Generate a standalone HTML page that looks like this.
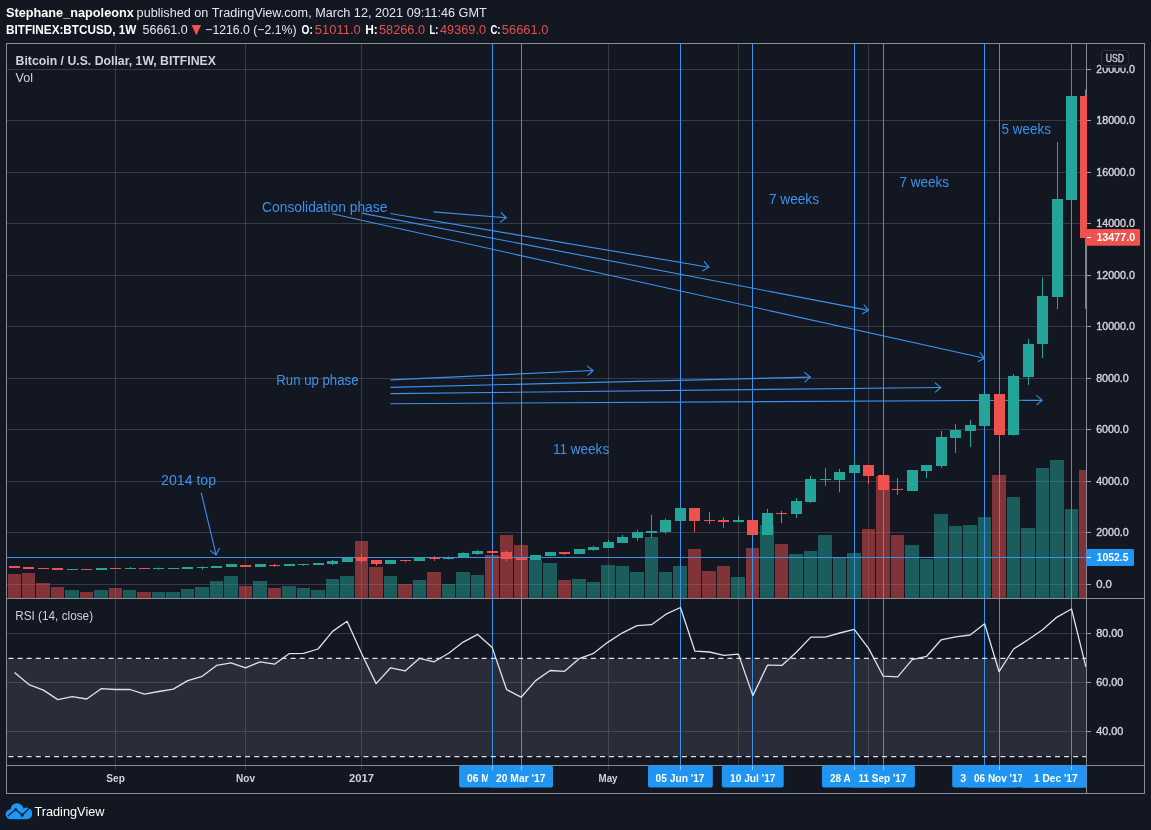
<!DOCTYPE html>
<html><head><meta charset="utf-8"><title>BTCUSD 1W</title>
<style>html,body{margin:0;padding:0;background:#131722;}body{width:1151px;height:830px;overflow:hidden;font-family:"Liberation Sans", sans-serif;}svg{display:block;}</style></head>
<body>
<svg width="1151" height="830" viewBox="0 0 1151 830" font-family='"Liberation Sans", sans-serif'>
<rect x="0" y="0" width="1151" height="830" fill="#131722"/>
<g opacity="0.999">
<defs><clipPath id="cp"><rect x="6.5" y="43.5" width="1080" height="721.5"/></clipPath></defs>
<rect x="6.5" y="658.5" width="1080" height="98" fill="#2b2e39"/>
<g shape-rendering="crispEdges">
<line x1="6.5" y1="584.5" x2="1086.5" y2="584.5" stroke="rgba(120,123,134,0.37)" stroke-width="1"/>
<line x1="6.5" y1="532.5" x2="1086.5" y2="532.5" stroke="rgba(120,123,134,0.37)" stroke-width="1"/>
<line x1="6.5" y1="481.5" x2="1086.5" y2="481.5" stroke="rgba(120,123,134,0.37)" stroke-width="1"/>
<line x1="6.5" y1="429.5" x2="1086.5" y2="429.5" stroke="rgba(120,123,134,0.37)" stroke-width="1"/>
<line x1="6.5" y1="378.5" x2="1086.5" y2="378.5" stroke="rgba(120,123,134,0.37)" stroke-width="1"/>
<line x1="6.5" y1="326.5" x2="1086.5" y2="326.5" stroke="rgba(120,123,134,0.37)" stroke-width="1"/>
<line x1="6.5" y1="275.5" x2="1086.5" y2="275.5" stroke="rgba(120,123,134,0.37)" stroke-width="1"/>
<line x1="6.5" y1="223.5" x2="1086.5" y2="223.5" stroke="rgba(120,123,134,0.37)" stroke-width="1"/>
<line x1="6.5" y1="172.5" x2="1086.5" y2="172.5" stroke="rgba(120,123,134,0.37)" stroke-width="1"/>
<line x1="6.5" y1="120.5" x2="1086.5" y2="120.5" stroke="rgba(120,123,134,0.37)" stroke-width="1"/>
<line x1="6.5" y1="69.5" x2="1086.5" y2="69.5" stroke="rgba(120,123,134,0.37)" stroke-width="1"/>
<line x1="6.5" y1="633.5" x2="1086.5" y2="633.5" stroke="rgba(120,123,134,0.37)" stroke-width="1"/>
<line x1="6.5" y1="682.5" x2="1086.5" y2="682.5" stroke="rgba(120,123,134,0.37)" stroke-width="1"/>
<line x1="6.5" y1="731.5" x2="1086.5" y2="731.5" stroke="rgba(120,123,134,0.37)" stroke-width="1"/>
<line x1="115.5" y1="43.5" x2="115.5" y2="770" stroke="rgba(120,123,134,0.37)" stroke-width="1"/>
<line x1="245.5" y1="43.5" x2="245.5" y2="770" stroke="rgba(120,123,134,0.37)" stroke-width="1"/>
<line x1="361.5" y1="43.5" x2="361.5" y2="770" stroke="rgba(120,123,134,0.37)" stroke-width="1"/>
<line x1="608.5" y1="43.5" x2="608.5" y2="770" stroke="rgba(120,123,134,0.37)" stroke-width="1"/>
<line x1="738.5" y1="43.5" x2="738.5" y2="770" stroke="rgba(120,123,134,0.37)" stroke-width="1"/>
<line x1="868.5" y1="43.5" x2="868.5" y2="770" stroke="rgba(120,123,134,0.37)" stroke-width="1"/>
</g>
<g clip-path="url(#cp)">
<g shape-rendering="crispEdges">
<rect x="8" y="574" width="13" height="24.5" fill="rgba(239,83,80,0.5)"/>
<rect x="22" y="573" width="13" height="25.5" fill="rgba(239,83,80,0.5)"/>
<rect x="36" y="583" width="14" height="15.5" fill="rgba(239,83,80,0.5)"/>
<rect x="51" y="587" width="13" height="11.5" fill="rgba(239,83,80,0.5)"/>
<rect x="65" y="590" width="14" height="8.5" fill="rgba(38,166,154,0.5)"/>
<rect x="80" y="592" width="13" height="6.5" fill="rgba(239,83,80,0.5)"/>
<rect x="94" y="590" width="14" height="8.5" fill="rgba(38,166,154,0.5)"/>
<rect x="109" y="588" width="13" height="10.5" fill="rgba(239,83,80,0.5)"/>
<rect x="123" y="590" width="13" height="8.5" fill="rgba(38,166,154,0.5)"/>
<rect x="137" y="592" width="14" height="6.5" fill="rgba(239,83,80,0.5)"/>
<rect x="152" y="592" width="13" height="6.5" fill="rgba(38,166,154,0.5)"/>
<rect x="166" y="592" width="14" height="6.5" fill="rgba(38,166,154,0.5)"/>
<rect x="181" y="589" width="13" height="9.5" fill="rgba(38,166,154,0.5)"/>
<rect x="195" y="587" width="14" height="11.5" fill="rgba(38,166,154,0.5)"/>
<rect x="210" y="581" width="13" height="17.5" fill="rgba(38,166,154,0.5)"/>
<rect x="224" y="576" width="14" height="22.5" fill="rgba(38,166,154,0.5)"/>
<rect x="239" y="586" width="13" height="12.5" fill="rgba(239,83,80,0.5)"/>
<rect x="253" y="581" width="14" height="17.5" fill="rgba(38,166,154,0.5)"/>
<rect x="268" y="588" width="13" height="10.5" fill="rgba(239,83,80,0.5)"/>
<rect x="282" y="586" width="14" height="12.5" fill="rgba(38,166,154,0.5)"/>
<rect x="297" y="588" width="13" height="10.5" fill="rgba(38,166,154,0.5)"/>
<rect x="311" y="590" width="14" height="8.5" fill="rgba(38,166,154,0.5)"/>
<rect x="326" y="579" width="13" height="19.5" fill="rgba(38,166,154,0.5)"/>
<rect x="340" y="576" width="14" height="22.5" fill="rgba(38,166,154,0.5)"/>
<rect x="355" y="541" width="13" height="57.5" fill="rgba(239,83,80,0.5)"/>
<rect x="369" y="567" width="14" height="31.5" fill="rgba(239,83,80,0.5)"/>
<rect x="384" y="576" width="13" height="22.5" fill="rgba(38,166,154,0.5)"/>
<rect x="398" y="584" width="14" height="14.5" fill="rgba(239,83,80,0.5)"/>
<rect x="413" y="580" width="13" height="18.5" fill="rgba(38,166,154,0.5)"/>
<rect x="427" y="572" width="14" height="26.5" fill="rgba(239,83,80,0.5)"/>
<rect x="442" y="584" width="13" height="14.5" fill="rgba(38,166,154,0.5)"/>
<rect x="456" y="572" width="14" height="26.5" fill="rgba(38,166,154,0.5)"/>
<rect x="471" y="575" width="13" height="23.5" fill="rgba(38,166,154,0.5)"/>
<rect x="485" y="555" width="14" height="43.5" fill="rgba(239,83,80,0.5)"/>
<rect x="500" y="535" width="13" height="63.5" fill="rgba(239,83,80,0.5)"/>
<rect x="514" y="545" width="14" height="53.5" fill="rgba(239,83,80,0.5)"/>
<rect x="529" y="560" width="13" height="38.5" fill="rgba(38,166,154,0.5)"/>
<rect x="543" y="563" width="14" height="35.5" fill="rgba(38,166,154,0.5)"/>
<rect x="558" y="580" width="13" height="18.5" fill="rgba(239,83,80,0.5)"/>
<rect x="572" y="579" width="14" height="19.5" fill="rgba(38,166,154,0.5)"/>
<rect x="587" y="582" width="13" height="16.5" fill="rgba(38,166,154,0.5)"/>
<rect x="601" y="565" width="14" height="33.5" fill="rgba(38,166,154,0.5)"/>
<rect x="616" y="566" width="13" height="32.5" fill="rgba(38,166,154,0.5)"/>
<rect x="630" y="572" width="14" height="26.5" fill="rgba(38,166,154,0.5)"/>
<rect x="645" y="537" width="13" height="61.5" fill="rgba(38,166,154,0.5)"/>
<rect x="659" y="572" width="13" height="26.5" fill="rgba(38,166,154,0.5)"/>
<rect x="673" y="566" width="14" height="32.5" fill="rgba(38,166,154,0.5)"/>
<rect x="688" y="549" width="13" height="49.5" fill="rgba(239,83,80,0.5)"/>
<rect x="702" y="571" width="14" height="27.5" fill="rgba(239,83,80,0.5)"/>
<rect x="717" y="566" width="13" height="32.5" fill="rgba(239,83,80,0.5)"/>
<rect x="731" y="577" width="14" height="21.5" fill="rgba(38,166,154,0.5)"/>
<rect x="746" y="548" width="13" height="50.5" fill="rgba(239,83,80,0.5)"/>
<rect x="760" y="525" width="14" height="73.5" fill="rgba(38,166,154,0.5)"/>
<rect x="775" y="544" width="13" height="54.5" fill="rgba(239,83,80,0.5)"/>
<rect x="789" y="554" width="14" height="44.5" fill="rgba(38,166,154,0.5)"/>
<rect x="804" y="551" width="13" height="47.5" fill="rgba(38,166,154,0.5)"/>
<rect x="818" y="535" width="14" height="63.5" fill="rgba(38,166,154,0.5)"/>
<rect x="833" y="557" width="13" height="41.5" fill="rgba(38,166,154,0.5)"/>
<rect x="847" y="553" width="14" height="45.5" fill="rgba(38,166,154,0.5)"/>
<rect x="862" y="529" width="13" height="69.5" fill="rgba(239,83,80,0.5)"/>
<rect x="876" y="475.5" width="14" height="123" fill="rgba(239,83,80,0.5)"/>
<rect x="891" y="535" width="13" height="63.5" fill="rgba(239,83,80,0.5)"/>
<rect x="905" y="545" width="14" height="53.5" fill="rgba(38,166,154,0.5)"/>
<rect x="920" y="559" width="13" height="39.5" fill="rgba(38,166,154,0.5)"/>
<rect x="934" y="514" width="14" height="84.5" fill="rgba(38,166,154,0.5)"/>
<rect x="949" y="526" width="13" height="72.5" fill="rgba(38,166,154,0.5)"/>
<rect x="963" y="525" width="14" height="73.5" fill="rgba(38,166,154,0.5)"/>
<rect x="978" y="517" width="13" height="81.5" fill="rgba(38,166,154,0.5)"/>
<rect x="992" y="475" width="14" height="123.5" fill="rgba(239,83,80,0.5)"/>
<rect x="1007" y="497" width="13" height="101.5" fill="rgba(38,166,154,0.5)"/>
<rect x="1021" y="528" width="14" height="70.5" fill="rgba(38,166,154,0.5)"/>
<rect x="1036" y="468" width="13" height="130.5" fill="rgba(38,166,154,0.5)"/>
<rect x="1050" y="459.6" width="14" height="138.9" fill="rgba(38,166,154,0.5)"/>
<rect x="1065" y="509" width="13" height="89.5" fill="rgba(38,166,154,0.5)"/>
<rect x="1079" y="470.4" width="13" height="128.1" fill="rgba(239,83,80,0.5)"/>
</g>
</g>
<g clip-path="url(#cp)">
<line x1="6.5" y1="557.5" x2="1086.5" y2="557.5" stroke="#3d93ec" stroke-width="1" shape-rendering="crispEdges"/>
</g>
<line x1="492.5" y1="43.5" x2="492.5" y2="769.7" stroke="#3d93ec" stroke-width="1" shape-rendering="crispEdges"/>
<line x1="521.5" y1="43.5" x2="521.5" y2="769.7" stroke="#3d93ec" stroke-width="1" shape-rendering="crispEdges"/>
<line x1="680.5" y1="43.5" x2="680.5" y2="769.7" stroke="#3d93ec" stroke-width="1" shape-rendering="crispEdges"/>
<line x1="752.5" y1="43.5" x2="752.5" y2="769.7" stroke="#3d93ec" stroke-width="1" shape-rendering="crispEdges"/>
<line x1="854.5" y1="43.5" x2="854.5" y2="769.7" stroke="#3d93ec" stroke-width="1" shape-rendering="crispEdges"/>
<line x1="883.5" y1="43.5" x2="883.5" y2="769.7" stroke="#3d93ec" stroke-width="1" shape-rendering="crispEdges"/>
<line x1="984.5" y1="43.5" x2="984.5" y2="765" stroke="#3d93ec" stroke-width="1" shape-rendering="crispEdges"/>
<line x1="999.5" y1="43.5" x2="999.5" y2="769.7" stroke="#3d93ec" stroke-width="1" shape-rendering="crispEdges"/>
<line x1="1071.5" y1="43.5" x2="1071.5" y2="769.7" stroke="#3d93ec" stroke-width="1" shape-rendering="crispEdges"/>
<line x1="433.6" y1="211.9" x2="506.3" y2="217.8" stroke="#3d93ec" stroke-width="1.1"/>
<polyline points="500.1,222.2 506.3,217.8 500.89,212.46" fill="none" stroke="#3d93ec" stroke-width="1.1" stroke-linejoin="miter"/>
<line x1="390.4" y1="213.5" x2="708.9" y2="267.2" stroke="#3d93ec" stroke-width="1.1"/>
<polyline points="702.35,271.05 708.9,267.2 703.97,261.41" fill="none" stroke="#3d93ec" stroke-width="1.1" stroke-linejoin="miter"/>
<line x1="361.6" y1="213.1" x2="868.5" y2="310.4" stroke="#3d93ec" stroke-width="1.1"/>
<polyline points="861.86,314.1 868.5,310.4 863.7,304.5" fill="none" stroke="#3d93ec" stroke-width="1.1" stroke-linejoin="miter"/>
<line x1="332.2" y1="213.8" x2="984.5" y2="358.3" stroke="#3d93ec" stroke-width="1.1"/>
<polyline points="977.76,361.81 984.5,358.3 979.87,352.27" fill="none" stroke="#3d93ec" stroke-width="1.1" stroke-linejoin="miter"/>
<line x1="390.4" y1="379.9" x2="593.1" y2="370.5" stroke="#3d93ec" stroke-width="1.1"/>
<polyline points="587.51,375.65 593.1,370.5 587.06,365.89" fill="none" stroke="#3d93ec" stroke-width="1.1" stroke-linejoin="miter"/>
<line x1="390.4" y1="387.4" x2="810.3" y2="377.1" stroke="#3d93ec" stroke-width="1.1"/>
<polyline points="804.6,382.13 810.3,377.1 804.36,372.36" fill="none" stroke="#3d93ec" stroke-width="1.1" stroke-linejoin="miter"/>
<line x1="390.4" y1="393.6" x2="940.8" y2="387.5" stroke="#3d93ec" stroke-width="1.1"/>
<polyline points="935.03,392.45 940.8,387.5 934.92,382.68" fill="none" stroke="#3d93ec" stroke-width="1.1" stroke-linejoin="miter"/>
<line x1="390.4" y1="403.7" x2="1042.2" y2="400.2" stroke="#3d93ec" stroke-width="1.1"/>
<polyline points="1036.4,405.12 1042.2,400.2 1036.35,395.35" fill="none" stroke="#3d93ec" stroke-width="1.1" stroke-linejoin="miter"/>
<line x1="201.2" y1="492.7" x2="216.1" y2="554.9" stroke="#3d93ec" stroke-width="1.1"/>
<polyline points="209.99,550.38 216.1,554.9 219.49,548.1" fill="none" stroke="#3d93ec" stroke-width="1.1" stroke-linejoin="miter"/>
<text x="262" y="212" font-size="14" font-weight="normal" fill="#3d93ec" text-anchor="start" textLength="125.4" lengthAdjust="spacingAndGlyphs">Consolidation phase</text>
<text x="276.3" y="385" font-size="14" font-weight="normal" fill="#3d93ec" text-anchor="start" textLength="82.2" lengthAdjust="spacingAndGlyphs">Run up phase</text>
<text x="161.1" y="484.7" font-size="14" font-weight="normal" fill="#3d93ec" text-anchor="start" textLength="55" lengthAdjust="spacingAndGlyphs">2014 top</text>
<text x="552.9" y="453.8" font-size="14" font-weight="normal" fill="#3d93ec" text-anchor="start" textLength="56.3" lengthAdjust="spacingAndGlyphs">11 weeks</text>
<text x="768.9" y="203.9" font-size="14" font-weight="normal" fill="#3d93ec" text-anchor="start" textLength="50.1" lengthAdjust="spacingAndGlyphs">7 weeks</text>
<text x="899.6" y="187.3" font-size="14" font-weight="normal" fill="#3d93ec" text-anchor="start" textLength="49.5" lengthAdjust="spacingAndGlyphs">7 weeks</text>
<text x="1001.6" y="134.4" font-size="14" font-weight="normal" fill="#3d93ec" text-anchor="start" textLength="49.3" lengthAdjust="spacingAndGlyphs">5 weeks</text>
<g clip-path="url(#cp)">
<rect x="9" y="566" width="11" height="2" fill="#ef5350" shape-rendering="crispEdges"/>
<rect x="23" y="567" width="11" height="2" fill="#ef5350" shape-rendering="crispEdges"/>
<rect x="38" y="568" width="11" height="1" fill="#ef5350" shape-rendering="crispEdges"/>
<rect x="52" y="568" width="11" height="2" fill="#ef5350" shape-rendering="crispEdges"/>
<rect x="67" y="569" width="11" height="1" fill="#26a69a" shape-rendering="crispEdges"/>
<rect x="81" y="569" width="11" height="1" fill="#ef5350" shape-rendering="crispEdges"/>
<rect x="96" y="568" width="11" height="2" fill="#26a69a" shape-rendering="crispEdges"/>
<rect x="110" y="568" width="11" height="1" fill="#ef5350" shape-rendering="crispEdges"/>
<line x1="130.5" y1="567" x2="130.5" y2="569" stroke="#26a69a" stroke-width="1"/>
<rect x="125" y="568" width="11" height="1" fill="#26a69a" shape-rendering="crispEdges"/>
<rect x="139" y="568" width="11" height="1" fill="#ef5350" shape-rendering="crispEdges"/>
<line x1="158.5" y1="567.5" x2="158.5" y2="569.8" stroke="#26a69a" stroke-width="1"/>
<rect x="153" y="568" width="11" height="1" fill="#26a69a" shape-rendering="crispEdges"/>
<rect x="168" y="568" width="11" height="1" fill="#26a69a" shape-rendering="crispEdges"/>
<rect x="182" y="567" width="11" height="2" fill="#26a69a" shape-rendering="crispEdges"/>
<line x1="202.5" y1="566.4" x2="202.5" y2="569.5" stroke="#26a69a" stroke-width="1"/>
<rect x="197" y="567" width="11" height="1" fill="#26a69a" shape-rendering="crispEdges"/>
<rect x="211" y="566" width="11" height="2" fill="#26a69a" shape-rendering="crispEdges"/>
<rect x="226" y="564" width="11" height="3" fill="#26a69a" shape-rendering="crispEdges"/>
<rect x="240" y="565" width="11" height="2" fill="#ef5350" shape-rendering="crispEdges"/>
<rect x="255" y="564" width="11" height="3" fill="#26a69a" shape-rendering="crispEdges"/>
<line x1="274.5" y1="564" x2="274.5" y2="567" stroke="#ef5350" stroke-width="1"/>
<rect x="269" y="565" width="11" height="1" fill="#ef5350" shape-rendering="crispEdges"/>
<rect x="284" y="564" width="11" height="2" fill="#26a69a" shape-rendering="crispEdges"/>
<line x1="303.5" y1="564" x2="303.5" y2="565.8" stroke="#26a69a" stroke-width="1"/>
<rect x="298" y="564" width="11" height="1" fill="#26a69a" shape-rendering="crispEdges"/>
<rect x="313" y="563" width="11" height="2" fill="#26a69a" shape-rendering="crispEdges"/>
<line x1="332.5" y1="560" x2="332.5" y2="565" stroke="#26a69a" stroke-width="1"/>
<rect x="327" y="561" width="11" height="3" fill="#26a69a" shape-rendering="crispEdges"/>
<rect x="342" y="558" width="11" height="4" fill="#26a69a" shape-rendering="crispEdges"/>
<line x1="361.5" y1="553.9" x2="361.5" y2="563.3" stroke="#ef5350" stroke-width="1"/>
<rect x="356" y="557" width="11" height="4" fill="#ef5350" shape-rendering="crispEdges"/>
<line x1="376.5" y1="560" x2="376.5" y2="565.8" stroke="#ef5350" stroke-width="1"/>
<rect x="371" y="560" width="11" height="4" fill="#ef5350" shape-rendering="crispEdges"/>
<rect x="385" y="560" width="11" height="4" fill="#26a69a" shape-rendering="crispEdges"/>
<line x1="405.5" y1="560" x2="405.5" y2="562.3" stroke="#ef5350" stroke-width="1"/>
<rect x="400" y="560" width="11" height="1" fill="#ef5350" shape-rendering="crispEdges"/>
<rect x="414" y="557" width="11" height="4" fill="#26a69a" shape-rendering="crispEdges"/>
<line x1="434.5" y1="556.4" x2="434.5" y2="560.8" stroke="#ef5350" stroke-width="1"/>
<rect x="429" y="558" width="11" height="1" fill="#ef5350" shape-rendering="crispEdges"/>
<line x1="448.5" y1="556.4" x2="448.5" y2="559.5" stroke="#26a69a" stroke-width="1"/>
<rect x="443" y="558" width="11" height="1" fill="#26a69a" shape-rendering="crispEdges"/>
<line x1="463.5" y1="552.4" x2="463.5" y2="557" stroke="#26a69a" stroke-width="1"/>
<rect x="458" y="553" width="11" height="4" fill="#26a69a" shape-rendering="crispEdges"/>
<line x1="477.5" y1="549.9" x2="477.5" y2="554.9" stroke="#26a69a" stroke-width="1"/>
<rect x="472" y="551" width="11" height="3" fill="#26a69a" shape-rendering="crispEdges"/>
<line x1="492.5" y1="550.1" x2="492.5" y2="553.9" stroke="#ef5350" stroke-width="1"/>
<rect x="487" y="551" width="11" height="2" fill="#ef5350" shape-rendering="crispEdges"/>
<line x1="506.5" y1="550.8" x2="506.5" y2="561" stroke="#ef5350" stroke-width="1"/>
<rect x="501" y="552" width="11" height="7" fill="#ef5350" shape-rendering="crispEdges"/>
<rect x="516" y="558" width="11" height="2" fill="#ef5350" shape-rendering="crispEdges"/>
<rect x="530" y="555" width="11" height="5" fill="#26a69a" shape-rendering="crispEdges"/>
<rect x="545" y="552" width="11" height="4" fill="#26a69a" shape-rendering="crispEdges"/>
<line x1="564.5" y1="552" x2="564.5" y2="554.9" stroke="#ef5350" stroke-width="1"/>
<rect x="559" y="552" width="11" height="2" fill="#ef5350" shape-rendering="crispEdges"/>
<rect x="574" y="549" width="11" height="5" fill="#26a69a" shape-rendering="crispEdges"/>
<line x1="593.5" y1="545.7" x2="593.5" y2="550.8" stroke="#26a69a" stroke-width="1"/>
<rect x="588" y="547" width="11" height="3" fill="#26a69a" shape-rendering="crispEdges"/>
<line x1="608.5" y1="540" x2="608.5" y2="547.7" stroke="#26a69a" stroke-width="1"/>
<rect x="603" y="542" width="11" height="6" fill="#26a69a" shape-rendering="crispEdges"/>
<line x1="622.5" y1="535" x2="622.5" y2="543" stroke="#26a69a" stroke-width="1"/>
<rect x="617" y="537" width="11" height="6" fill="#26a69a" shape-rendering="crispEdges"/>
<line x1="637.5" y1="529.8" x2="637.5" y2="541" stroke="#26a69a" stroke-width="1"/>
<rect x="632" y="532" width="11" height="6" fill="#26a69a" shape-rendering="crispEdges"/>
<line x1="651.5" y1="514.8" x2="651.5" y2="538" stroke="#26a69a" stroke-width="1"/>
<rect x="646" y="531" width="11" height="2" fill="#26a69a" shape-rendering="crispEdges"/>
<line x1="665.5" y1="518.6" x2="665.5" y2="533.8" stroke="#26a69a" stroke-width="1"/>
<rect x="660" y="520" width="11" height="12" fill="#26a69a" shape-rendering="crispEdges"/>
<line x1="680.5" y1="506.5" x2="680.5" y2="521.5" stroke="#26a69a" stroke-width="1"/>
<rect x="675" y="508" width="11" height="13" fill="#26a69a" shape-rendering="crispEdges"/>
<line x1="694.5" y1="508" x2="694.5" y2="532.4" stroke="#ef5350" stroke-width="1"/>
<rect x="689" y="508" width="11" height="13" fill="#ef5350" shape-rendering="crispEdges"/>
<line x1="709.5" y1="512.2" x2="709.5" y2="524" stroke="#ef5350" stroke-width="1"/>
<rect x="704" y="520" width="11" height="1" fill="#ef5350" shape-rendering="crispEdges"/>
<line x1="723.5" y1="517.5" x2="723.5" y2="527.8" stroke="#ef5350" stroke-width="1"/>
<rect x="718" y="520" width="11" height="2" fill="#ef5350" shape-rendering="crispEdges"/>
<line x1="738.5" y1="515.7" x2="738.5" y2="522" stroke="#26a69a" stroke-width="1"/>
<rect x="733" y="520" width="11" height="2" fill="#26a69a" shape-rendering="crispEdges"/>
<rect x="747" y="520" width="11" height="15" fill="#ef5350" shape-rendering="crispEdges"/>
<line x1="767.5" y1="508.8" x2="767.5" y2="535" stroke="#26a69a" stroke-width="1"/>
<rect x="762" y="513" width="11" height="22" fill="#26a69a" shape-rendering="crispEdges"/>
<line x1="781.5" y1="510.7" x2="781.5" y2="523.2" stroke="#ef5350" stroke-width="1"/>
<rect x="776" y="513" width="11" height="1" fill="#ef5350" shape-rendering="crispEdges"/>
<line x1="796.5" y1="498" x2="796.5" y2="518" stroke="#26a69a" stroke-width="1"/>
<rect x="791" y="501" width="11" height="13" fill="#26a69a" shape-rendering="crispEdges"/>
<line x1="810.5" y1="476" x2="810.5" y2="503" stroke="#26a69a" stroke-width="1"/>
<rect x="805" y="479" width="11" height="23" fill="#26a69a" shape-rendering="crispEdges"/>
<line x1="825.5" y1="468" x2="825.5" y2="486" stroke="#26a69a" stroke-width="1"/>
<rect x="820" y="479" width="11" height="1" fill="#26a69a" shape-rendering="crispEdges"/>
<line x1="839.5" y1="468.8" x2="839.5" y2="492.3" stroke="#26a69a" stroke-width="1"/>
<rect x="834" y="472" width="11" height="8" fill="#26a69a" shape-rendering="crispEdges"/>
<line x1="854.5" y1="458" x2="854.5" y2="472.8" stroke="#26a69a" stroke-width="1"/>
<rect x="849" y="465" width="11" height="8" fill="#26a69a" shape-rendering="crispEdges"/>
<line x1="868.5" y1="465" x2="868.5" y2="484" stroke="#ef5350" stroke-width="1"/>
<rect x="863" y="465" width="11" height="11" fill="#ef5350" shape-rendering="crispEdges"/>
<line x1="883.5" y1="473" x2="883.5" y2="490" stroke="#ef5350" stroke-width="1"/>
<rect x="878" y="475" width="11" height="15" fill="#ef5350" shape-rendering="crispEdges"/>
<line x1="897.5" y1="478" x2="897.5" y2="495" stroke="#ef5350" stroke-width="1"/>
<rect x="892" y="489" width="11" height="1" fill="#ef5350" shape-rendering="crispEdges"/>
<rect x="907" y="470" width="11" height="21" fill="#26a69a" shape-rendering="crispEdges"/>
<line x1="926.5" y1="465" x2="926.5" y2="478" stroke="#26a69a" stroke-width="1"/>
<rect x="921" y="465" width="11" height="6" fill="#26a69a" shape-rendering="crispEdges"/>
<line x1="941.5" y1="431" x2="941.5" y2="468" stroke="#26a69a" stroke-width="1"/>
<rect x="936" y="437" width="11" height="29" fill="#26a69a" shape-rendering="crispEdges"/>
<line x1="955.5" y1="424" x2="955.5" y2="453" stroke="#26a69a" stroke-width="1"/>
<rect x="950" y="430" width="11" height="8" fill="#26a69a" shape-rendering="crispEdges"/>
<line x1="970.5" y1="420" x2="970.5" y2="447" stroke="#26a69a" stroke-width="1"/>
<rect x="965" y="425" width="11" height="6" fill="#26a69a" shape-rendering="crispEdges"/>
<rect x="979" y="394" width="11" height="32" fill="#26a69a" shape-rendering="crispEdges"/>
<line x1="999.5" y1="381" x2="999.5" y2="445" stroke="#ef5350" stroke-width="1"/>
<rect x="994" y="394" width="11" height="41" fill="#ef5350" shape-rendering="crispEdges"/>
<line x1="1013.5" y1="374" x2="1013.5" y2="435.6" stroke="#26a69a" stroke-width="1"/>
<rect x="1008" y="376" width="11" height="59" fill="#26a69a" shape-rendering="crispEdges"/>
<line x1="1028.5" y1="339" x2="1028.5" y2="385" stroke="#26a69a" stroke-width="1"/>
<rect x="1023" y="344" width="11" height="33" fill="#26a69a" shape-rendering="crispEdges"/>
<line x1="1042.5" y1="277.5" x2="1042.5" y2="358" stroke="#26a69a" stroke-width="1"/>
<rect x="1037" y="296" width="11" height="48" fill="#26a69a" shape-rendering="crispEdges"/>
<line x1="1057.5" y1="142" x2="1057.5" y2="309.2" stroke="#26a69a" stroke-width="1"/>
<rect x="1052" y="199" width="11" height="98" fill="#26a69a" shape-rendering="crispEdges"/>
<line x1="1071.5" y1="70" x2="1071.5" y2="200.3" stroke="#26a69a" stroke-width="1"/>
<rect x="1066" y="96" width="11" height="104" fill="#26a69a" shape-rendering="crispEdges"/>
<line x1="1085.5" y1="89.7" x2="1085.5" y2="308.7" stroke="#ef5350" stroke-width="1"/>
<rect x="1080" y="96" width="11" height="142" fill="#ef5350" shape-rendering="crispEdges"/>
</g>
<g clip-path="url(#cp)">
<polyline points="14.5,672.5 28.94,684.6 43.38,690.1 57.81,699.6 72.25,696.6 86.69,699 101.12,688.7 115.56,689.5 130,689.5 144.44,694.2 158.88,691.5 173.31,689.1 187.75,680.6 202.19,676.3 216.62,665.4 231.06,662.8 245.5,667.8 260.01,661.8 274.52,664.2 289.04,653.7 303.55,653.3 318.06,649 332.57,631.4 347.08,621.3 361.6,653.5 376.11,683.6 390.62,667.8 405.13,670.9 419.64,658.3 434.16,661.8 448.67,653.2 463.18,642.1 477.69,634.4 492.2,647.6 506.68,689.7 521.16,697.2 535.65,680.6 550.13,670.5 564.61,671.3 579.1,658.7 593.58,653.3 608.06,642.1 622.54,632.8 637.02,625.7 651.51,624.7 665.99,614.2 680.47,607.5 694.95,651.2 709.44,652 723.92,655.3 738.4,654.1 752.88,695.6 767.37,665.2 781.85,665.4 796.33,652.3 810.82,637.1 825.3,637.1 839.78,633 854.26,629.4 868.75,648.6 883.23,676.2 897.71,676.8 912.19,659.6 926.67,656.3 941.16,639.8 955.64,636.8 970.12,635 984.61,623.7 999.09,671.7 1013.57,649 1028.05,639.8 1042.54,629.7 1057.02,617.1 1071.5,609 1085.98,667.2" fill="none" stroke="#e0e3eb" stroke-width="1.3" stroke-linejoin="round"/>
</g>
<line x1="8.5" y1="658.4" x2="1086.5" y2="658.4" stroke="#dfe1e6" stroke-width="1.25" stroke-dasharray="5 4.1"/>
<line x1="8.5" y1="756.5" x2="1086.5" y2="756.5" stroke="#dfe1e6" stroke-width="1.25" stroke-dasharray="5 4.1"/>
<text x="15.6" y="64.7" font-size="12.5" font-weight="bold" fill="#d1d4dc" text-anchor="start" textLength="200.4" lengthAdjust="spacingAndGlyphs">Bitcoin / U.S. Dollar, 1W, BITFINEX</text>
<text x="15.6" y="81.9" font-size="12.5" font-weight="normal" fill="#d1d4dc" text-anchor="start" textLength="17.5" lengthAdjust="spacingAndGlyphs">Vol</text>
<text x="15.2" y="620.3" font-size="12.5" font-weight="normal" fill="#d1d4dc" text-anchor="start" textLength="77.9" lengthAdjust="spacingAndGlyphs">RSI (14, close)</text>
<g shape-rendering="crispEdges">
<line x1="1086.5" y1="43.5" x2="1086.5" y2="793.5" stroke="#8a8d97" stroke-width="1"/>
<line x1="6.5" y1="598.5" x2="1144.5" y2="598.5" stroke="#8a8d97" stroke-width="1"/>
<line x1="6.5" y1="765.5" x2="1144.5" y2="765.5" stroke="#8a8d97" stroke-width="1"/>
<rect x="6.5" y="43.5" width="1138" height="750" fill="none" stroke="#8a8d97" stroke-width="1"/>
</g>
<rect x="1086" y="96" width="1" height="141.5" fill="#ef5350" shape-rendering="crispEdges"/>
<line x1="1087" y1="584.5" x2="1091" y2="584.5" stroke="#9598a1" stroke-width="1" shape-rendering="crispEdges"/>
<text x="1096.2" y="588.4" font-size="10.8" font-weight="normal" fill="#d1d4dc" text-anchor="start" textLength="15.7" lengthAdjust="spacingAndGlyphs" stroke="#d1d4dc" stroke-width="0.4">0.0</text>
<line x1="1087" y1="532.5" x2="1091" y2="532.5" stroke="#9598a1" stroke-width="1" shape-rendering="crispEdges"/>
<text x="1096.2" y="536.4" font-size="10.8" font-weight="normal" fill="#d1d4dc" text-anchor="start" textLength="32.5" lengthAdjust="spacingAndGlyphs" stroke="#d1d4dc" stroke-width="0.4">2000.0</text>
<line x1="1087" y1="481.5" x2="1091" y2="481.5" stroke="#9598a1" stroke-width="1" shape-rendering="crispEdges"/>
<text x="1096.2" y="485.4" font-size="10.8" font-weight="normal" fill="#d1d4dc" text-anchor="start" textLength="32.5" lengthAdjust="spacingAndGlyphs" stroke="#d1d4dc" stroke-width="0.4">4000.0</text>
<line x1="1087" y1="429.5" x2="1091" y2="429.5" stroke="#9598a1" stroke-width="1" shape-rendering="crispEdges"/>
<text x="1096.2" y="433.4" font-size="10.8" font-weight="normal" fill="#d1d4dc" text-anchor="start" textLength="32.5" lengthAdjust="spacingAndGlyphs" stroke="#d1d4dc" stroke-width="0.4">6000.0</text>
<line x1="1087" y1="378.5" x2="1091" y2="378.5" stroke="#9598a1" stroke-width="1" shape-rendering="crispEdges"/>
<text x="1096.2" y="382.4" font-size="10.8" font-weight="normal" fill="#d1d4dc" text-anchor="start" textLength="32.5" lengthAdjust="spacingAndGlyphs" stroke="#d1d4dc" stroke-width="0.4">8000.0</text>
<line x1="1087" y1="326.5" x2="1091" y2="326.5" stroke="#9598a1" stroke-width="1" shape-rendering="crispEdges"/>
<text x="1096.2" y="330.4" font-size="10.8" font-weight="normal" fill="#d1d4dc" text-anchor="start" textLength="38.8" lengthAdjust="spacingAndGlyphs" stroke="#d1d4dc" stroke-width="0.4">10000.0</text>
<line x1="1087" y1="275.5" x2="1091" y2="275.5" stroke="#9598a1" stroke-width="1" shape-rendering="crispEdges"/>
<text x="1096.2" y="279.4" font-size="10.8" font-weight="normal" fill="#d1d4dc" text-anchor="start" textLength="38.8" lengthAdjust="spacingAndGlyphs" stroke="#d1d4dc" stroke-width="0.4">12000.0</text>
<line x1="1087" y1="223.5" x2="1091" y2="223.5" stroke="#9598a1" stroke-width="1" shape-rendering="crispEdges"/>
<text x="1096.2" y="227.4" font-size="10.8" font-weight="normal" fill="#d1d4dc" text-anchor="start" textLength="38.8" lengthAdjust="spacingAndGlyphs" stroke="#d1d4dc" stroke-width="0.4">14000.0</text>
<line x1="1087" y1="172.5" x2="1091" y2="172.5" stroke="#9598a1" stroke-width="1" shape-rendering="crispEdges"/>
<text x="1096.2" y="176.4" font-size="10.8" font-weight="normal" fill="#d1d4dc" text-anchor="start" textLength="38.8" lengthAdjust="spacingAndGlyphs" stroke="#d1d4dc" stroke-width="0.4">16000.0</text>
<line x1="1087" y1="120.5" x2="1091" y2="120.5" stroke="#9598a1" stroke-width="1" shape-rendering="crispEdges"/>
<text x="1096.2" y="124.4" font-size="10.8" font-weight="normal" fill="#d1d4dc" text-anchor="start" textLength="38.8" lengthAdjust="spacingAndGlyphs" stroke="#d1d4dc" stroke-width="0.4">18000.0</text>
<line x1="1087" y1="69.5" x2="1091" y2="69.5" stroke="#9598a1" stroke-width="1" shape-rendering="crispEdges"/>
<text x="1096.2" y="73.4" font-size="10.8" font-weight="normal" fill="#d1d4dc" text-anchor="start" textLength="38.8" lengthAdjust="spacingAndGlyphs" stroke="#d1d4dc" stroke-width="0.4">20000.0</text>
<line x1="1087" y1="633.5" x2="1091" y2="633.5" stroke="#9598a1" stroke-width="1" shape-rendering="crispEdges"/>
<text x="1096.2" y="637.4" font-size="10.8" font-weight="normal" fill="#d1d4dc" text-anchor="start" textLength="27.2" lengthAdjust="spacingAndGlyphs" stroke="#d1d4dc" stroke-width="0.4">80.00</text>
<line x1="1087" y1="682.5" x2="1091" y2="682.5" stroke="#9598a1" stroke-width="1" shape-rendering="crispEdges"/>
<text x="1096.2" y="686.4" font-size="10.8" font-weight="normal" fill="#d1d4dc" text-anchor="start" textLength="27.2" lengthAdjust="spacingAndGlyphs" stroke="#d1d4dc" stroke-width="0.4">60.00</text>
<line x1="1087" y1="731.5" x2="1091" y2="731.5" stroke="#9598a1" stroke-width="1" shape-rendering="crispEdges"/>
<text x="1096.2" y="735.4" font-size="10.8" font-weight="normal" fill="#d1d4dc" text-anchor="start" textLength="27.2" lengthAdjust="spacingAndGlyphs" stroke="#d1d4dc" stroke-width="0.4">40.00</text>
<rect x="1101" y="52" width="27.6" height="15.6" fill="#131722"/>
<rect x="1101.5" y="50.5" width="26.8" height="15" rx="3" fill="#131722" stroke="#2f3340" stroke-width="1"/>
<text x="1105.7" y="61.7" font-size="10.5" font-weight="normal" fill="#d1d4dc" text-anchor="start" textLength="18.4" lengthAdjust="spacingAndGlyphs" stroke="#d1d4dc" stroke-width="0.3">USD</text>
<rect x="1085.5" y="229" width="54.6" height="16.8" fill="#ef5350" rx="1.5"/>
<line x1="1087" y1="237.5" x2="1091" y2="237.5" stroke="#fff" stroke-width="1"/>
<text x="1096.4" y="241.4" font-size="10.8" font-weight="bold" fill="#fff" text-anchor="start" textLength="38.8" lengthAdjust="spacingAndGlyphs">13477.0</text>
<rect x="1086.4" y="549" width="47.6" height="17" fill="#2196f3" rx="1.5"/>
<line x1="1087" y1="557.5" x2="1091" y2="557.5" stroke="#fff" stroke-width="1"/>
<text x="1096.6" y="561.4" font-size="10.8" font-weight="bold" fill="#fff" text-anchor="start" textLength="32" lengthAdjust="spacingAndGlyphs">1052.5</text>
<text x="115.56" y="782.2" font-size="10.8" font-weight="bold" fill="#d1d4dc" text-anchor="middle" textLength="18.5" lengthAdjust="spacingAndGlyphs">Sep</text>
<text x="245.5" y="782.2" font-size="10.8" font-weight="bold" fill="#d1d4dc" text-anchor="middle" textLength="19" lengthAdjust="spacingAndGlyphs">Nov</text>
<text x="361.6" y="782.2" font-size="10.8" font-weight="bold" fill="#d1d4dc" text-anchor="middle" textLength="25" lengthAdjust="spacingAndGlyphs">2017</text>
<text x="608.06" y="782.2" font-size="10.8" font-weight="bold" fill="#d1d4dc" text-anchor="middle" textLength="19" lengthAdjust="spacingAndGlyphs">May</text>
<rect x="459.1" y="765.6" width="64.9" height="22" rx="2" fill="#2196f3"/>
<clipPath id="tc1"><rect x="459.1" y="760" width="28.9" height="30"/></clipPath>
<text x="467" y="782.2" font-size="10.8" font-weight="bold" fill="#fff" text-anchor="start" textLength="49.5" lengthAdjust="spacingAndGlyphs" clip-path="url(#tc1)">06 Mar '17</text>
<rect x="489.3" y="765.6" width="63.7" height="22" rx="2" fill="#2196f3"/>
<text x="496" y="782.2" font-size="10.8" font-weight="bold" fill="#fff" text-anchor="start" textLength="49.5" lengthAdjust="spacingAndGlyphs">20 Mar '17</text>
<rect x="648" y="765.6" width="64.8" height="22" rx="2" fill="#2196f3"/>
<text x="655.5" y="782.2" font-size="10.8" font-weight="bold" fill="#fff" text-anchor="start" textLength="49" lengthAdjust="spacingAndGlyphs">05 Jun '17</text>
<rect x="721.8" y="765.6" width="61.9" height="22" rx="2" fill="#2196f3"/>
<text x="730" y="782.2" font-size="10.8" font-weight="bold" fill="#fff" text-anchor="start" textLength="45.5" lengthAdjust="spacingAndGlyphs">10 Jul '17</text>
<rect x="821.9" y="765.6" width="64.1" height="22" rx="2" fill="#2196f3"/>
<clipPath id="tc2"><rect x="821.9" y="760" width="28.5" height="30"/></clipPath>
<text x="830" y="782.2" font-size="10.8" font-weight="bold" fill="#fff" text-anchor="start" textLength="49.5" lengthAdjust="spacingAndGlyphs" clip-path="url(#tc2)">28 Aug '17</text>
<rect x="850.6" y="765.6" width="64.3" height="22" rx="2" fill="#2196f3"/>
<text x="858.4" y="782.2" font-size="10.8" font-weight="bold" fill="#fff" text-anchor="start" textLength="48" lengthAdjust="spacingAndGlyphs">11 Sep '17</text>
<rect x="952.2" y="765.6" width="64.8" height="22" rx="2" fill="#2196f3"/>
<clipPath id="tc3"><rect x="952.2" y="760" width="14.1" height="30"/></clipPath>
<text x="960.2" y="782.2" font-size="10.8" font-weight="bold" fill="#fff" text-anchor="start" textLength="49" lengthAdjust="spacingAndGlyphs" clip-path="url(#tc3)">30 Oct '17</text>
<rect x="966.5" y="765.6" width="64.5" height="22" rx="2" fill="#2196f3"/>
<text x="974" y="782.2" font-size="10.8" font-weight="bold" fill="#fff" text-anchor="start" textLength="49" lengthAdjust="spacingAndGlyphs">06 Nov '17</text>
<rect x="1022" y="765.6" width="64.3" height="22" fill="#2196f3"/>
<rect x="1022" y="765.6" width="64.3" height="22" rx="2" fill="#2196f3"/>
<text x="1034.1" y="782.2" font-size="10.8" font-weight="bold" fill="#fff" text-anchor="start" textLength="43.5" lengthAdjust="spacingAndGlyphs">1 Dec '17</text>
<line x1="492.5" y1="766" x2="492.5" y2="770" stroke="#90caf9" stroke-width="1" shape-rendering="crispEdges"/>
<line x1="521.5" y1="766" x2="521.5" y2="770" stroke="#90caf9" stroke-width="1" shape-rendering="crispEdges"/>
<line x1="680.5" y1="766" x2="680.5" y2="770" stroke="#90caf9" stroke-width="1" shape-rendering="crispEdges"/>
<line x1="752.5" y1="766" x2="752.5" y2="770" stroke="#90caf9" stroke-width="1" shape-rendering="crispEdges"/>
<line x1="854.5" y1="766" x2="854.5" y2="770" stroke="#90caf9" stroke-width="1" shape-rendering="crispEdges"/>
<line x1="883.5" y1="766" x2="883.5" y2="770" stroke="#90caf9" stroke-width="1" shape-rendering="crispEdges"/>
<line x1="999.5" y1="766" x2="999.5" y2="770" stroke="#90caf9" stroke-width="1" shape-rendering="crispEdges"/>
<line x1="1071.5" y1="766" x2="1071.5" y2="770" stroke="#90caf9" stroke-width="1" shape-rendering="crispEdges"/>
<text x="6" y="16.5" font-size="12.5" font-weight="bold" fill="#fff" text-anchor="start" textLength="127.8" lengthAdjust="spacingAndGlyphs">Stephane_napoleonx</text>
<text x="136.6" y="16.5" font-size="12.5" font-weight="normal" fill="#e6e8ee" text-anchor="start" textLength="350.1" lengthAdjust="spacingAndGlyphs">published on TradingView.com, March 12, 2021 09:11:46 GMT</text>
<text x="6" y="33.6" font-size="12.5" font-weight="bold" fill="#fff" text-anchor="start" textLength="130.4" lengthAdjust="spacingAndGlyphs">BITFINEX:BTCUSD, 1W</text>
<text x="142.6" y="33.6" font-size="12.5" font-weight="normal" fill="#e6e8ee" text-anchor="start" textLength="45.1" lengthAdjust="spacingAndGlyphs">56661.0</text>
<path d="M191.5 25 L201.2 25 L196.35 35.2 Z" fill="#ef5350"/>
<text x="205.3" y="33.6" font-size="12.5" font-weight="normal" fill="#e6e8ee" text-anchor="start" textLength="91.2" lengthAdjust="spacingAndGlyphs">−1216.0 (−2.1%)</text>
<text x="301.5" y="33.6" font-size="12.5" font-weight="bold" fill="#fff" text-anchor="start" textLength="11.3" lengthAdjust="spacingAndGlyphs">O:</text>
<text x="314.8" y="33.6" font-size="12.5" font-weight="normal" fill="#e0524f" text-anchor="start" textLength="45.9" lengthAdjust="spacingAndGlyphs">51011.0</text>
<text x="365.2" y="33.6" font-size="12.5" font-weight="bold" fill="#fff" text-anchor="start" textLength="12.6" lengthAdjust="spacingAndGlyphs">H:</text>
<text x="379" y="33.6" font-size="12.5" font-weight="normal" fill="#e0524f" text-anchor="start" textLength="46" lengthAdjust="spacingAndGlyphs">58266.0</text>
<text x="429.5" y="33.6" font-size="12.5" font-weight="bold" fill="#fff" text-anchor="start" textLength="8.8" lengthAdjust="spacingAndGlyphs">L:</text>
<text x="440" y="33.6" font-size="12.5" font-weight="normal" fill="#e0524f" text-anchor="start" textLength="46" lengthAdjust="spacingAndGlyphs">49369.0</text>
<text x="490.4" y="33.6" font-size="12.5" font-weight="bold" fill="#fff" text-anchor="start" textLength="10.1" lengthAdjust="spacingAndGlyphs">C:</text>
<text x="501.8" y="33.6" font-size="12.5" font-weight="normal" fill="#e0524f" text-anchor="start" textLength="46.6" lengthAdjust="spacingAndGlyphs">56661.0</text>
<g transform="translate(5.6,803.2)">
<g fill="#1f99f5"><circle cx="4.8" cy="11.2" r="4.8"/><circle cx="11.4" cy="6.6" r="6.6"/><circle cx="20.9" cy="10.2" r="5.8"/><rect x="4.8" y="9" width="16.1" height="7"/></g>
<path d="M2.6 12.6 L10 6.3 L16.6 11.8 L23.4 5.4" fill="none" stroke="#0f2748" stroke-width="1.4" stroke-linejoin="round" stroke-linecap="round"/>
<circle cx="10" cy="6.3" r="1.5" fill="#0f2748"/>
<circle cx="16.6" cy="11.8" r="1.7" fill="#0f2748"/>
</g>
<text x="34.4" y="816.2" font-size="12.8" font-weight="normal" fill="#fff" text-anchor="start" textLength="70.1" lengthAdjust="spacingAndGlyphs">TradingView</text>
</g>
</svg>
</body></html>
